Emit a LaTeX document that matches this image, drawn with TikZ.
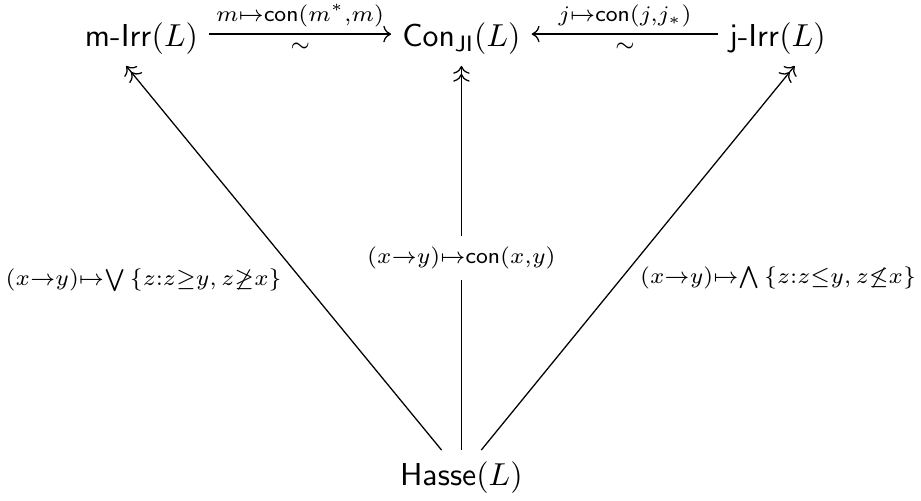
\documentclass[tikz,border=0pt]{standalone}
\usepackage{amsmath,amssymb}
\usetikzlibrary{arrows.meta, positioning, calc}

\tikzset{
    obj/.style={anchor=base},
    iso/.style={->},
    surj/.style={->>},
    toplab/.style={inner sep=2.6pt}
}

\begin{document}
\begin{tikzpicture}
        % Fix the page to the proportions of the figure
        \useasboundingbox (0,0) rectangle (10.2,5.538);
        % The four objects
        \node[obj] (mirr) at (1.567,5.02) {$\mathsf{m}\text{-}\mathsf{Irr}(L)$};
        \node[obj] (con) at (5.11,5.02) {$\mathsf{Con}_{\mathsf{JI}}(L)$};
        \node[obj] (jirr) at (8.611,5.02) {$\mathsf{j}\text{-}\mathsf{Irr}(L)$};
        \node[obj] (hasse) at (5.11,0.166) {$\mathsf{Hasse}(L)$};
        % Isomorphisms along the top row
        \draw[iso] ([yshift=1.5pt]mirr.east) -- ([yshift=1.5pt]mirr.east -| con.west)
            node[midway, above, toplab, inner sep=2.1pt] {$\scriptstyle m\mapsto\mathsf{con}(m^*,m)$}
            node[midway, below, toplab] {$\scriptstyle\sim$};
        \draw[iso] ([yshift=1.5pt]jirr.west) -- ([yshift=1.5pt]jirr.west -| con.east)
            node[midway, above, toplab, inner sep=2.1pt] {$\scriptstyle j\mapsto\mathsf{con}(j,j_*)$}
            node[midway, below, toplab] {$\scriptstyle\sim$};
        % Maps out of the Hasse diagram
        \draw[surj] ([xshift=-0.22cm]hasse.north) -- ([xshift=-0.17cm]mirr.south)
            node[midway, below left, xshift=0.1cm] {$\scriptstyle (x\to y)\mapsto\bigvee\,\{z:z\geq y,\,z\not\geq x\}$};
        \draw[surj] (hasse.north) -- (con.south)
            node[midway, fill=white] {$\scriptstyle (x\to y)\mapsto\mathsf{con}(x,y)$};
        \draw[surj] ([xshift=0.22cm]hasse.north) -- ([xshift=0.19cm]jirr.south)
            node[midway, below right, xshift=-0.1cm, yshift=0.03cm] {$\scriptstyle (x\to y)\mapsto\bigwedge\,\{z:z\leq y,\,z\not\leq x\}$};
\end{tikzpicture}
\end{document}
